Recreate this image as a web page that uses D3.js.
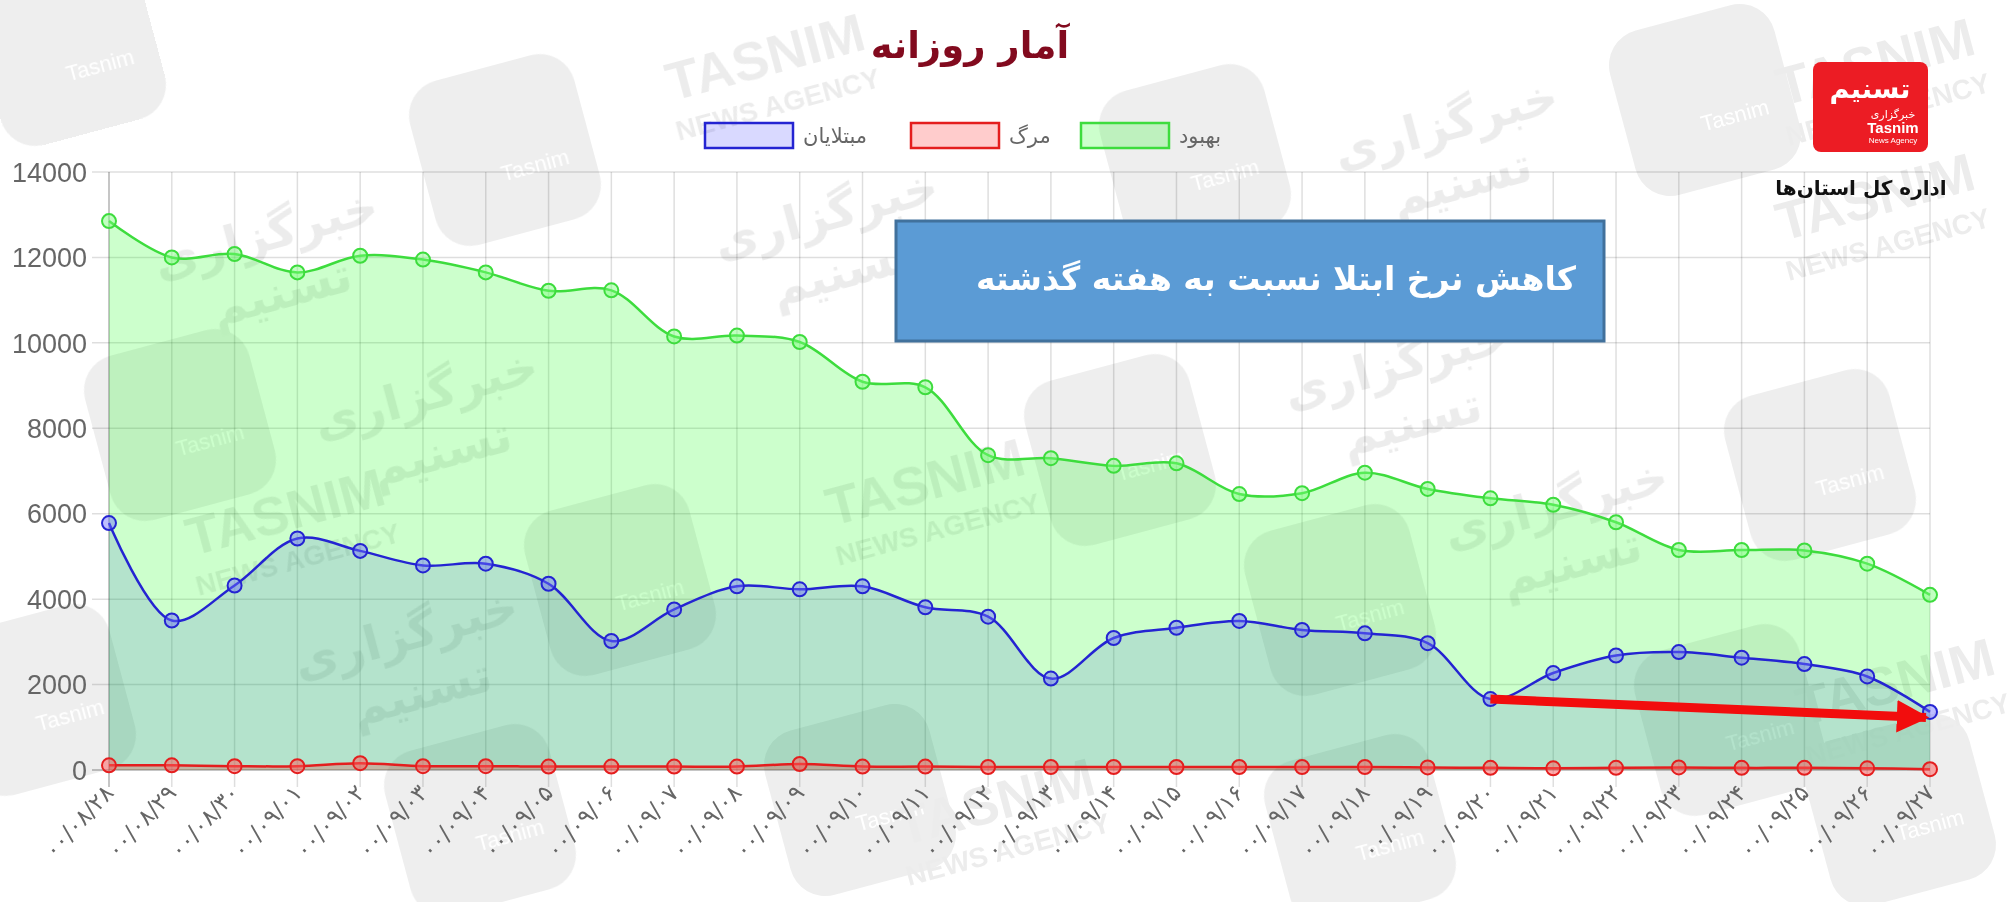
<!DOCTYPE html>
<html>
<head>
<meta charset="utf-8">
<script src="https://cdnjs.cloudflare.com/ajax/libs/d3/7.8.5/d3.min.js"></script>
<style>
  body { margin: 0; background: #fff; }
  svg { display: block; }
</style>
</head>
<body>
<svg width="2015" height="902"></svg>
<script>
// dates (Persian calendar, Persian digits)
var dates = ["۰۰/۰۸/۲۸", "۰۰/۰۸/۲۹", "۰۰/۰۸/۳۰", "۰۰/۰۹/۰۱", "۰۰/۰۹/۰۲", "۰۰/۰۹/۰۳",
             "۰۰/۰۹/۰۴", "۰۰/۰۹/۰۵", "۰۰/۰۹/۰۶", "۰۰/۰۹/۰۷", "۰۰/۰۹/۰۸", "۰۰/۰۹/۰۹",
             "۰۰/۰۹/۱۰", "۰۰/۰۹/۱۱", "۰۰/۰۹/۱۲", "۰۰/۰۹/۱۳", "۰۰/۰۹/۱۴", "۰۰/۰۹/۱۵",
             "۰۰/۰۹/۱۶", "۰۰/۰۹/۱۷", "۰۰/۰۹/۱۸", "۰۰/۰۹/۱۹", "۰۰/۰۹/۲۰", "۰۰/۰۹/۲۱",
             "۰۰/۰۹/۲۲", "۰۰/۰۹/۲۳", "۰۰/۰۹/۲۴", "۰۰/۰۹/۲۵", "۰۰/۰۹/۲۶", "۰۰/۰۹/۲۷"];

// بهبود
var recovered = [12850, 12000, 12080, 11650, 12040, 11950, 11650, 11220, 11230, 10150,
                 10170, 10020, 9090, 8960, 7370, 7300, 7120, 7180, 6460, 6480,
                 6960, 6580, 6360, 6210, 5800, 5150, 5150, 5140, 4830, 4100];
// مرگ
var deaths = [110, 110, 90, 90, 160, 90, 90, 80, 80, 80,
              80, 140, 80, 80, 70, 70, 70, 70, 70, 70,
              70, 60, 50, 40, 50, 60, 50, 50, 40, 20];
// مبتلایان
var infected = [5780, 3500, 4320, 5420, 5130, 4790, 4830, 4360, 3020, 3760,
                4300, 4230, 4300, 3810, 3590, 2140, 3090, 3330, 3490, 3280,
                3200, 2970, 1660, 2270, 2680, 2760, 2630, 2480, 2190, 1360];

var yTicks = [0, 2000, 4000, 6000, 8000, 10000, 12000, 14000];

var legendNames = ["بهبود", "مرگ", "مبتلایان"];

// the red arrow: from 09/20 to 09/27
var arrowFrom = { date: "۰۰/۰۹/۲۰", value: 1660 };
var arrowTo = { date: "۰۰/۰۹/۲۷", value: 1230 };

var svg = d3.select("svg"),
    width = +svg.attr("width"),
    height = +svg.attr("height");

var plotLeft = 109, plotRight = 1930, plotTop = 172, plotBottom = 770;

var x = d3.scalePoint().domain(dates).range([plotLeft, plotRight]);
var y = d3.scaleLinear().domain([0, 14000]).range([plotBottom, plotTop]);

// watermark (faint logos and texts)
var wm = svg.append("g").attr("class", "watermark").attr("opacity", 0.085);
var wmSquares = [[70, 50], [505, 150], [1195, 160], [1705, 100], [180, 425], [1120, 450],
                 [1820, 465], [620, 580], [1340, 600], [40, 700], [480, 820], [860, 800],
                 [1360, 830], [1730, 720], [1900, 810]];
wmSquares.forEach(function(p) {
    var g = wm.append("g").attr("transform", "translate(" + p + ") rotate(-15)");
    g.append("rect").attr("x", -85).attr("y", -85).attr("width", 170).attr("height", 170)
        .attr("rx", 36).attr("fill", "#333");
    g.append("text").attr("x", 25).attr("y", 30).attr("text-anchor", "middle")
        .attr("font-family", "Liberation Sans").attr("font-size", 22).attr("fill", "#fff")
        .text("Tasnim");
});
var wmTexts = [[770, 75], [1880, 80], [1880, 215], [930, 500], [290, 530], [1900, 700], [1000, 820]];
wmTexts.forEach(function(p) {
    var g = wm.append("g").attr("transform", "translate(" + p + ") rotate(-15)")
        .attr("font-family", "Liberation Sans").attr("font-weight", "bold")
        .attr("text-anchor", "middle").attr("fill", "#222");
    g.append("text").attr("font-size", 54).text("TASNIM");
    g.append("text").attr("y", 40).attr("font-size", 28).text("NEWS AGENCY");
});
var wmFa = [[270, 250], [1450, 140], [430, 410], [1400, 380], [410, 650], [1560, 520], [830, 230]];
wmFa.forEach(function(p) {
    var g = wm.append("g").attr("transform", "translate(" + p + ") rotate(-15)")
        .attr("font-family", "DejaVu Sans").attr("font-weight", "bold")
        .attr("text-anchor", "middle").attr("fill", "#222");
    g.append("text").attr("font-size", 48).text("خبرگزاری");
    g.append("text").attr("y", 60).attr("font-size", 48).text("تسنیم");
});

// grid
var grid = svg.append("g").attr("class", "grid");
grid.selectAll("line.h")
    .data(yTicks)
    .enter().append("line")
    .attr("class", "h")
    .attr("x1", plotLeft - 17).attr("x2", plotRight)
    .attr("y1", function(d) { return y(d); })
    .attr("y2", function(d) { return y(d); })
    .attr("stroke", function(d) { return d == 0 ? "rgba(0,0,0,0.3)" : "rgba(0,0,0,0.13)"; })
    .attr("stroke-width", 1.5);

grid.selectAll("line.v")
    .data(dates)
    .enter().append("line")
    .attr("class", "v")
    .attr("x1", function(d) { return x(d); })
    .attr("x2", function(d) { return x(d); })
    .attr("y1", plotTop).attr("y2", plotBottom + 17)
    .attr("stroke", function(d, i) { return i == 0 ? "rgba(0,0,0,0.3)" : "rgba(0,0,0,0.13)"; })
    .attr("stroke-width", 1.5);

// y labels
svg.append("g")
    .selectAll("text")
    .data(yTicks)
    .enter().append("text")
    .attr("x", plotLeft - 22)
    .attr("y", function(d) { return y(d); })
    .attr("dy", "0.36em")
    .attr("text-anchor", "end")
    .attr("font-family", "Liberation Sans, Arial, sans-serif")
    .attr("font-size", 27)
    .attr("fill", "#666")
    .text(function(d) { return d; });

// x labels
svg.append("g")
    .selectAll("text")
    .data(dates)
    .enter().append("text")
    .attr("transform", function(d) { return "translate(" + (x(d) + 6) + "," + (plotBottom + 24) + ") rotate(-47)"; })
    .attr("text-anchor", "end")
    .attr("font-family", "DejaVu Sans, sans-serif")
    .attr("font-size", 23)
    .attr("fill", "#666")
    .attr("direction", "ltr")
    .text(function(d) { return d; });

var curve = d3.curveCatmullRom.alpha(0.5);

function areaOf(values) {
    return d3.area()
        .x(function(d, i) { return x(dates[i]); })
        .y0(y(0))
        .y1(function(d) { return y(d); })
        .curve(curve)(values);
}
function lineOf(values) {
    return d3.line()
        .x(function(d, i) { return x(dates[i]); })
        .y(function(d) { return y(d); })
        .curve(curve)(values);
}

var series = [
    { name: legendNames[0], values: recovered, line: "#3ddc3d", fill: "rgba(0,255,0,0.2)", dot: "rgba(120,255,120,0.45)" },
    { name: legendNames[2], values: infected, line: "#2424d2", fill: "rgba(0,24,200,0.12)", dot: "rgba(110,110,255,0.45)" },
    { name: legendNames[1], values: deaths, line: "#e41e1e", fill: "rgba(255,0,0,0.2)", dot: "rgba(255,90,90,0.5)" }
];

series.forEach(function(s) {
    svg.append("path").attr("d", areaOf(s.values)).attr("fill", s.fill);
});
series.forEach(function(s) {
    svg.append("path").attr("d", lineOf(s.values))
        .attr("fill", "none").attr("stroke", s.line).attr("stroke-width", 2.5);
    svg.append("g").selectAll("circle")
        .data(s.values)
        .enter().append("circle")
        .attr("cx", function(d, i) { return x(dates[i]); })
        .attr("cy", function(d) { return y(d); })
        .attr("r", 7)
        .attr("fill", s.dot)
        .attr("stroke", s.line)
        .attr("stroke-width", 2);
});

// arrow
svg.append("defs").append("marker")
    .attr("id", "head")
    .attr("viewBox", "0 0 10 10")
    .attr("refX", 9).attr("refY", 5)
    .attr("markerWidth", 3.6).attr("markerHeight", 4)
    .attr("markerUnits", "strokeWidth")
    .attr("orient", "auto")
    .append("path").attr("d", "M0,0 L10,5 L0,10 Z").attr("fill", "#f20d0d");

svg.append("line")
    .attr("x1", x(arrowFrom.date)).attr("y1", y(arrowFrom.value))
    .attr("x2", x(arrowTo.date) - 4).attr("y2", y(arrowTo.value))
    .attr("stroke", "#f20d0d")
    .attr("stroke-width", 9)
    .attr("marker-end", "url(#head)");

// title
svg.append("text")
    .attr("x", 970).attr("y", 58)
    .attr("text-anchor", "middle")
    .attr("font-family", "DejaVu Sans, sans-serif")
    .attr("font-weight", "bold")
    .attr("font-size", 37)
    .attr("fill", "#820a1e")
    .text("آمار روزانه");

// legend
var legendItems = [
    { name: legendNames[0], x: 1081, stroke: "#3ddc3d", fill: "rgba(0,255,0,0.2)" },
    { name: legendNames[1], x: 911, stroke: "#e41e1e", fill: "rgba(255,0,0,0.2)" },
    { name: legendNames[2], x: 705, stroke: "#2424d2", fill: "rgba(0,0,255,0.15)" }
];
var legend = svg.append("g").attr("class", "legend");
legendItems.forEach(function(it) {
    legend.append("rect")
        .attr("x", it.x).attr("y", 123)
        .attr("width", 88).attr("height", 25)
        .attr("fill", it.fill).attr("stroke", it.stroke).attr("stroke-width", 2.5);
    legend.append("text")
        .attr("x", it.x + 98).attr("y", 136)
        .attr("dy", "0.35em")
        .attr("text-anchor", "start")
        .attr("font-family", "DejaVu Sans, sans-serif")
        .attr("font-size", 21)
        .attr("fill", "#666")
        .text(it.name);
});

// annotation box
svg.append("rect")
    .attr("x", 896).attr("y", 221)
    .attr("width", 708).attr("height", 120)
    .attr("fill", "#5b9bd5")
    .attr("stroke", "#41719c")
    .attr("stroke-width", 3);
svg.append("text")
    .attr("x", 1276).attr("y", 278)
    .attr("dy", "0.35em")
    .attr("text-anchor", "middle")
    .attr("font-family", "DejaVu Sans, sans-serif")
    .attr("font-weight", "bold")
    .attr("font-size", 33)
    .attr("fill", "#fff")
    .text("کاهش نرخ ابتلا نسبت به هفته گذشته");

// logo
var logo = svg.append("g").attr("class", "logo");
logo.append("rect")
    .attr("x", 1813).attr("y", 62)
    .attr("width", 115).attr("height", 90)
    .attr("rx", 8)
    .attr("fill", "#ec1c24");
logo.append("text")
    .attr("x", 1870).attr("y", 98)
    .attr("text-anchor", "middle")
    .attr("font-family", "DejaVu Sans, sans-serif")
    .attr("font-weight", "bold")
    .attr("font-size", 27)
    .attr("fill", "#fff")
    .text("تسنیم");
logo.append("text")
    .attr("x", 1893).attr("y", 118)
    .attr("text-anchor", "middle")
    .attr("font-family", "DejaVu Sans, sans-serif")
    .attr("font-size", 11)
    .attr("fill", "#fff")
    .text("خبرگزاری");
logo.append("text")
    .attr("x", 1893).attr("y", 133)
    .attr("text-anchor", "middle")
    .attr("font-family", "Liberation Sans, sans-serif")
    .attr("font-weight", "bold")
    .attr("font-size", 15)
    .attr("fill", "#fff")
    .text("Tasnim");
logo.append("text")
    .attr("x", 1893).attr("y", 143)
    .attr("text-anchor", "middle")
    .attr("font-family", "Liberation Sans, sans-serif")
    .attr("font-size", 8)
    .attr("fill", "#fff")
    .text("News Agency");
logo.append("text")
    .attr("x", 1861).attr("y", 195)
    .attr("text-anchor", "middle")
    .attr("font-family", "DejaVu Sans, sans-serif")
    .attr("font-weight", "bold")
    .attr("font-size", 20)
    .attr("fill", "#111")
    .text("اداره کل استان‌ها");
</script>
</body>
</html>
